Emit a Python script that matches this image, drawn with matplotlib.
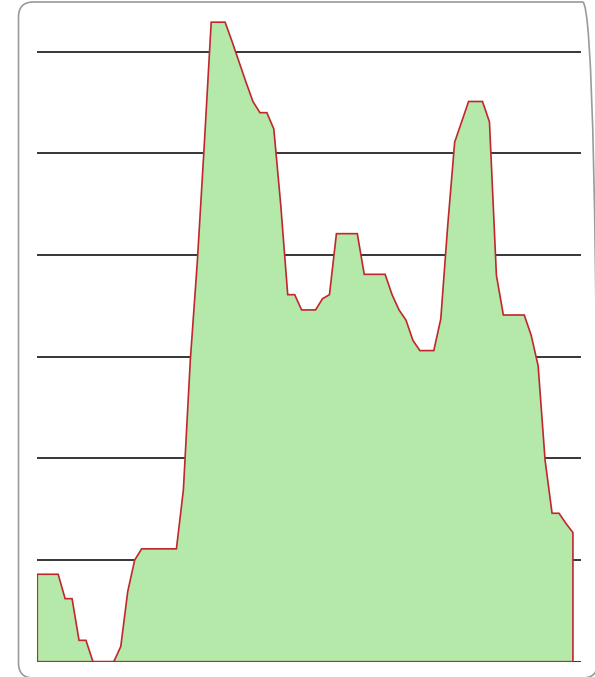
import matplotlib
matplotlib.use("Agg")
import matplotlib.pyplot as plt
from matplotlib.patches import FancyBboxPatch
import numpy as np

# values, one per step
values = [8.6, 8.6, 8.6, 8.6, 6.2, 6.2, 2.1, 2.1, 0.0, 0.0,
          0.0, 0.0, 1.5, 6.9, 10.0, 11.1, 11.1, 11.1, 11.1, 11.1,
          11.1, 16.9, 29.7, 39.3, 50.8, 62.9, 62.9, 62.9, 61.0, 59.0,
          57.0, 55.1, 54.0, 54.0, 52.4, 44.9, 36.1, 36.1, 34.6, 34.6,
          34.6, 35.7, 36.1, 42.1, 42.1, 42.1, 42.1, 38.1, 38.1, 38.1,
          38.1, 36.1, 34.6, 33.6, 31.6, 30.6, 30.6, 30.6, 33.7, 42.9,
          51.1, 53.1, 55.1, 55.1, 55.1, 53.1, 38.0, 34.1, 34.1, 34.1,
          34.1, 32.1, 29.1, 19.8, 14.6, 14.6, 13.6, 12.7]
grid_levels = [0, 10, 20, 30, 40, 50, 60]

W, H = 595, 677
fig = plt.figure(figsize=(W / 100, H / 100), dpi=100)

# rounded frame around the chart
frame = FancyBboxPatch((18.5 + 15, -1 + 15), 579 - 30, 676 - 30,
                       boxstyle="round,pad=15", transform=None,
                       facecolor="none", edgecolor="#9a9a9a", linewidth=1.2,
                       zorder=0)
fig.patches.append(frame)

left, right, bottom_px = 37.3, 581, 661.7
ax = fig.add_axes([left / W, (H - bottom_px) / H, (right - left) / W, 650.7 / H])
ax.set_facecolor("none")
ax.set_zorder(2)

x = np.arange(len(values))
ax.set_xlim(0, 78.16)
ax.set_ylim(0, 64)

for g in grid_levels:
    ax.axhline(g, color="black", linewidth=1.1, zorder=1)

xp = np.concatenate([[x[0]], x, [x[-1]]])
yp = np.concatenate([[0], values, [0]])
ax.fill(xp, yp, facecolor="#b5e9a9", edgecolor="#c1272d", linewidth=1.2, zorder=2)

ax.axis("off")
fig.savefig("out.png", dpi=100)
